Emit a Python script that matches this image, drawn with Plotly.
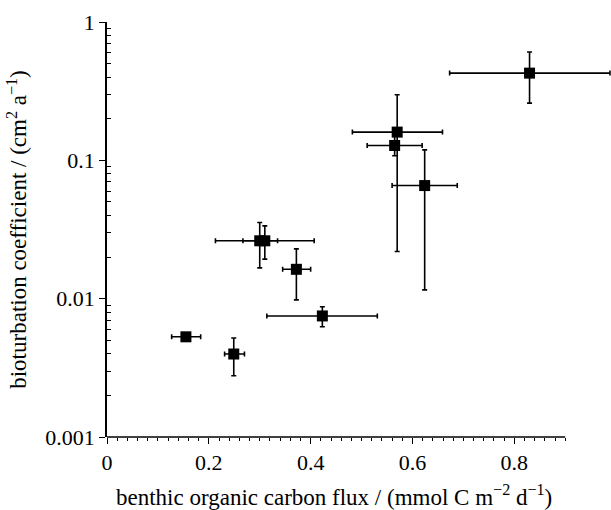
import plotly.graph_objects as go

# data (flux in mmol C m-2 d-1, Db in cm2 a-1)
flux      = [0.155, 0.249, 0.300, 0.310, 0.372, 0.423, 0.565, 0.570, 0.624, 0.830]
flux_lo   = [0.127, 0.231, 0.267, 0.213, 0.345, 0.314, 0.511, 0.482, 0.560, 0.673]
flux_hi   = [0.184, 0.270, 0.335, 0.407, 0.400, 0.531, 0.619, 0.659, 0.688, 0.988]
db        = [0.0053, 0.00398, 0.0262, 0.0262, 0.0163, 0.0075, 0.128, 0.160, 0.0657, 0.427]
db_lo     = [0.0053, 0.00277, 0.0167, 0.0193, 0.0098, 0.00627, 0.108, 0.0219, 0.01157, 0.259]
db_hi     = [0.0053, 0.0052, 0.0355, 0.0336, 0.0229, 0.00875, 0.151, 0.298, 0.119, 0.607]

x_major = [0, 0.1, 0.2, 0.3, 0.4, 0.5, 0.6, 0.7, 0.8, 0.9]
x_labels = ["0", "", "0.2", "", "0.4", "", "0.6", "", "0.8", ""]
x_minor = [round(i * 0.02, 2) for i in range(46)]
y_major = [0.001, 0.01, 0.1, 1]
y_labels = ["0.001", "0.01", "0.1", "1"]
y_minor = [m * 10.0 ** e for e in (-3, -2, -1) for m in range(2, 10)]

FONT = "Liberation Serif"

fig = go.Figure()
fig.add_trace(go.Scatter(
    x=flux, y=db, mode="markers",
    marker=dict(symbol="square", size=11, color="black"),
    error_x=dict(type="data", symmetric=False,
                 array=[h - v for h, v in zip(flux_hi, flux)],
                 arrayminus=[v - l for v, l in zip(flux, flux_lo)],
                 color="black", thickness=1.6, width=2.5),
    error_y=dict(type="data", symmetric=False,
                 array=[h - v for h, v in zip(db_hi, db)],
                 arrayminus=[v - l for v, l in zip(db, db_lo)],
                 color="black", thickness=1.6, width=2.5),
    cliponaxis=False,
    showlegend=False,
))

fig.update_layout(
    width=611, height=510,
    margin=dict(l=107, r=0, t=22, b=73),
    paper_bgcolor="white", plot_bgcolor="white",
    font=dict(family=FONT, size=22, color="black"),
    xaxis=dict(range=[0, 0.99], showgrid=False, zeroline=False,
               showline=False,
               tickmode="array", tickvals=x_major, ticktext=x_labels,
               ticks="outside", ticklen=6, tickwidth=1, tickcolor="black",
               minor=dict(tickmode="array", tickvals=x_minor, ticks="outside",
                          ticklen=3, tickwidth=1, tickcolor="black", showgrid=False),
               tickfont=dict(family=FONT, size=22)),
    yaxis=dict(type="log", range=[-3, 0], showgrid=False, zeroline=False,
               showline=True, linecolor="black", linewidth=1.5,
               tickmode="array", tickvals=y_major, ticktext=y_labels,
               ticks="outside", ticklen=6, tickwidth=1, tickcolor="black",
               minor=dict(tickmode="array", tickvals=y_minor, ticks="inside",
                          ticklen=4, tickwidth=1, tickcolor="black", showgrid=False),
               tickfont=dict(family=FONT, size=22),
               title=dict(text="bioturbation coefficient / (cm<sup>2</sup> a<sup>\u22121</sup>)",
                          font=dict(family=FONT, size=23), standoff=12)),
    shapes=[dict(type="line", xref="x", yref="paper", x0=0, x1=0.9, y0=0, y1=0,
                 line=dict(color="black", width=1.5))],
    annotations=[dict(text="benthic organic carbon flux / (mmol C m<sup>\u22122</sup> d<sup>\u22121</sup>)",
                      xref="x", yref="paper", x=0.445, y=0, yshift=-58,
                      xanchor="center", yanchor="middle", showarrow=False,
                      font=dict(family=FONT, size=23))],
)

fig.write_html("out.html", config={"displayModeBar": False})
